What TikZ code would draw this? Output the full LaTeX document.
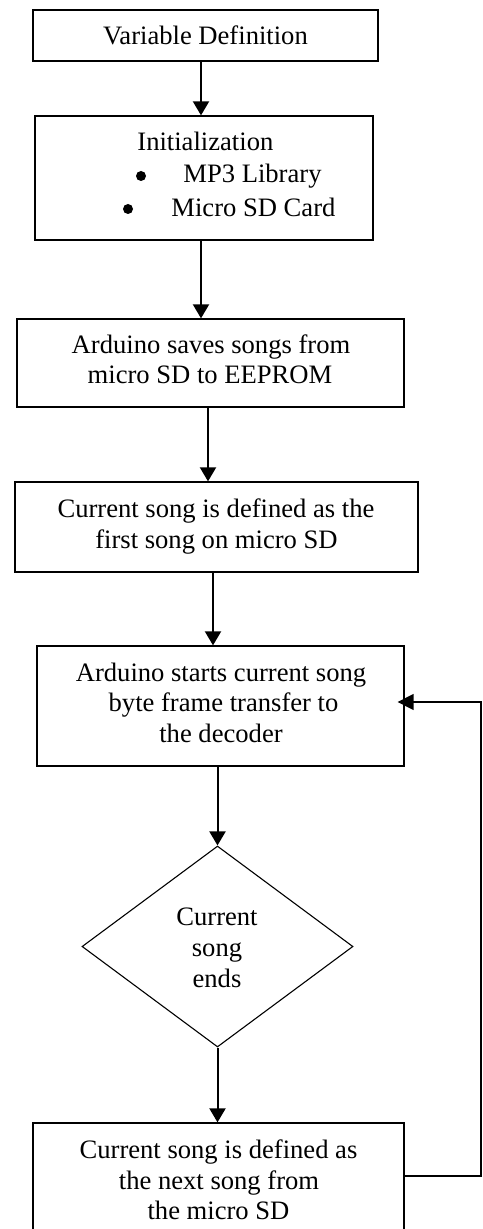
\documentclass[tikz,border=0pt]{standalone}
\usepackage{fontspec}
\setmainfont{Liberation Serif}
\usetikzlibrary{arrows.meta,shapes.geometric}
\begin{document}
\begin{tikzpicture}[x=0.5pt,y=-0.5pt,
  box/.style={draw,line width=0.65pt,inner sep=0pt,rectangle},
  dia/.style={draw,line width=0.55pt,inner sep=0pt,diamond},
  txt/.style={inner sep=0pt,anchor=base,font=\fontsize{13.3pt}{15pt}\selectfont},
  bul/.style={circle,fill=black,inner sep=0pt,minimum size=5pt},
  arr/.style={line width=1pt,-{Triangle[length=7pt,width=8pt]}},
  back/.style={line width=0.7pt,-{Triangle[length=8pt,width=8pt]}}]
\useasboundingbox (0,0) rectangle (482,1229);
% boxes
\node[box,minimum width=172.5pt,minimum height=25.5pt] (B1) at (205.5,35.5) {};
\node[box,minimum width=169pt,minimum height=62pt] (B2) at (204,178) {};
\node[box,minimum width=193.5pt,minimum height=44pt] (B3) at (210.5,363) {};
\node[box,minimum width=201.5pt,minimum height=45pt] (B4) at (216.5,527) {};
\node[box,minimum width=183.5pt,minimum height=60pt] (B5) at (220.5,706) {};
\node[dia,minimum width=135.5pt,minimum height=100.5pt] (D) at (217.5,946.5) {};
\node[box,minimum width=185.5pt,minimum height=58.5pt] (B6) at (218.5,1181.5) {};
% texts
\node[txt] (T1) at (205.5,45) {Variable Definition};
\node[txt,anchor=base west] (T2a) at (137,151) {Initialization};
\node[bul] (T2b) at (141,176) {};
\node[txt,anchor=base west] (T2c) at (183,183) {MP3 Library};
\node[bul] (T2d) at (128,209) {};
\node[txt,anchor=base west] (T2e) at (171,217) {Micro SD Card};
\node[txt] (T3a) at (211,354) {Arduino saves songs from};
\node[txt] (T3b) at (210,384) {micro SD to EEPROM};
\node[txt] (T4a) at (216,517) {Current song is defined as the};
\node[txt] (T4b) at (216.5,548) {first song on micro SD};
\node[txt] (T5a) at (221,681) {Arduino starts current song};
\node[txt] (T5b) at (223.5,711) {byte frame transfer to};
\node[txt] (T5c) at (221,742) {the decoder};
\node[txt] (TDa) at (217,925) {Current};
\node[txt] (TDb) at (217,956) {song};
\node[txt] (TDc) at (217,987) {ends};
\node[txt] (T6a) at (218.5,1158) {Current song is defined as};
\node[txt] (T6b) at (219,1189) {the next song from};
\node[txt] (T6c) at (218.5,1219) {the micro SD};
% connector columns
\coordinate (x1) at (201,0);
\coordinate (x3) at (208,0);
\coordinate (x4) at (213,0);
\coordinate (x5) at (217.5,0);
\coordinate (fbB) at (481,1176);
\coordinate (fbT) at (481,702);
% arrows
\draw[arr] (B1.south -| x1) -- (B2.north -| x1);
\draw[arr] (B2.south -| x1) -- (B3.north -| x1);
\draw[arr] (B3.south -| x3) -- (B4.north -| x3);
\draw[arr] (B4.south -| x4) -- (B5.north -| x4);
\draw[arr] (B5.south -| x5) -- (D.north);
\draw[arr] (D.south) -- (B6.north -| x5);
\draw[back,shorten >=-3.5pt] (B6.east |- fbB) -- (fbB) -- (fbT) -- (B5.east |- fbT);
\end{tikzpicture}
\end{document}
